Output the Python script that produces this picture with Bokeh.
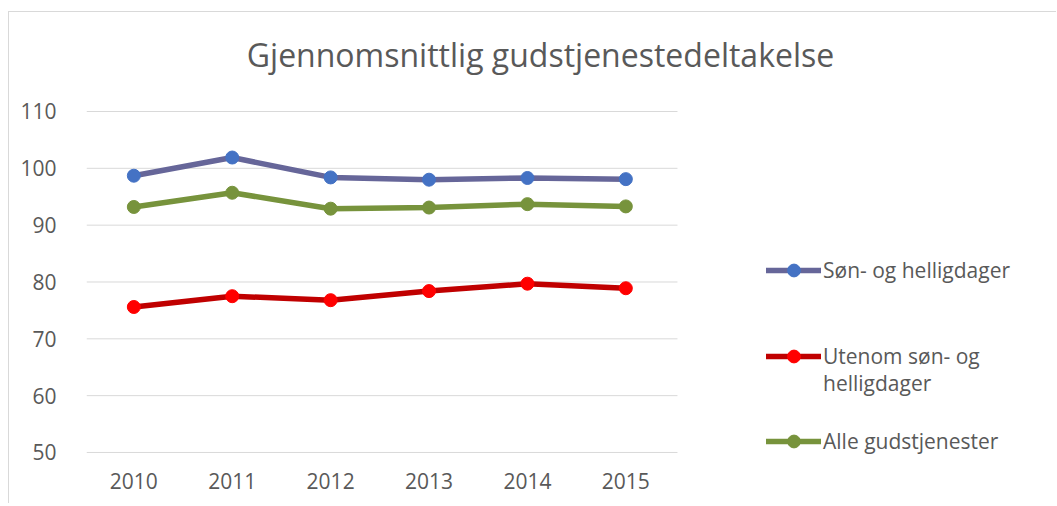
from bokeh.plotting import figure
from bokeh.models import Range1d, FixedTicker, Legend, LegendItem, Label
from bokeh.embed import file_html
from bokeh.resources import INLINE

years = [2010, 2011, 2012, 2013, 2014, 2015]
son_og_helligdager = [98.7, 101.9, 98.4, 98.0, 98.3, 98.1]
utenom_son_og_helligdager = [75.6, 77.5, 76.8, 78.4, 79.7, 78.9]
alle_gudstjenester = [93.2, 95.7, 92.9, 93.1, 93.7, 93.3]
legend_labels = ["Søn- og helligdager", "Utenom søn- og", "helligdager", "Alle gudstjenester"]
y_ticks = [50, 60, 70, 80, 90, 100, 110]
title_text = "Gjennomsnittlig gudstjenestedeltakelse"

FONT = "Open Sans"
GRAY = "#595959"
GRID = "#d9d9d9"

# layout constants (data-space extents of the drawing area)
X_LEFT, X_RIGHT, X_PLOT_END = 2009.519, 2019.387, 2015.525
Y_BOTTOM, Y_TOP = 49.644, 127.42

p = figure(width=1048, height=492, output_backend="svg", toolbar_location=None,
           x_range=Range1d(X_LEFT, X_RIGHT), y_range=Range1d(Y_BOTTOM, Y_TOP),
           min_border_left=77, min_border_right=0, min_border_top=0, min_border_bottom=50)
p.styles = {"margin-left": "8px", "margin-top": "11px",
            "border-left": f"1px solid {GRID}", "border-top": f"1px solid {GRID}"}
p.outline_line_color = None
p.background_fill_color = "white"
p.border_fill_color = "white"
p.xgrid.visible = False
p.ygrid.visible = False
p.yaxis[0].ticker = FixedTicker(ticks=y_ticks)
p.xaxis[0].ticker = FixedTicker(ticks=years)
for ax in (p.xaxis[0], p.yaxis[0]):
    ax.axis_line_color = None
    ax.major_tick_line_color = None
    ax.minor_tick_line_color = None
    ax.major_label_text_font = FONT
    ax.major_label_text_font_size = "21px"
    ax.major_label_text_color = GRAY
p.yaxis[0].major_label_standoff = 24
p.xaxis[0].major_label_standoff = 12

# horizontal gridlines at the y ticks, spanning the plot area only
p.segment(x0=[X_LEFT] * len(y_ticks), x1=[X_PLOT_END] * len(y_ticks),
          y0=y_ticks, y1=y_ticks, line_color=GRID, line_width=1, level="underlay")

styles = [
    (son_og_helligdager, "#666699", "#4472C4"),
    (utenom_son_og_helligdager, "#C00000", "#FF0000"),
    (alle_gudstjenester, "#77933C", "#77933C"),
]
rends = []
for vals, lc, mc in styles:
    lr = p.line(years, vals, line_color=lc, line_width=5.5, line_join="round", line_cap="round")
    sr = p.scatter(years, vals, size=13, marker="circle", fill_color=mc, line_color=mc)
    rends.append([lr, sr])
dummy = p.line(x=[], y=[], line_alpha=0)


def make_legend(items, spacing, loc):
    lg = Legend(items=items, location=loc)
    lg.glyph_width = 55
    lg.glyph_height = 32
    lg.label_height = 20
    lg.label_standoff = 2
    lg.spacing = spacing
    lg.padding = 0
    lg.margin = 0
    lg.border_line_color = None
    lg.background_fill_alpha = 0
    lg.label_text_font = FONT
    lg.label_text_font_size = "21px"
    lg.label_text_color = GRAY
    return lg


legend_a = make_legend([LegendItem(label=legend_labels[0], renderers=rends[0]),
                        LegendItem(label=legend_labels[1], renderers=rends[1])], 54, (680, 82))
legend_b = make_legend([LegendItem(label=legend_labels[2], renderers=[dummy]),
                        LegendItem(label=legend_labels[3], renderers=rends[2])], 26, (680, -3))
p.add_layout(legend_a)
p.add_layout(legend_b)

title = Label(x=2014.133, y=120.1, text=title_text,
              text_align="center", text_baseline="middle", text_font=FONT,
              text_font_size="32px", text_color=GRAY)
p.add_layout(title)

open("out.html", "w").write(file_html(p, INLINE))
